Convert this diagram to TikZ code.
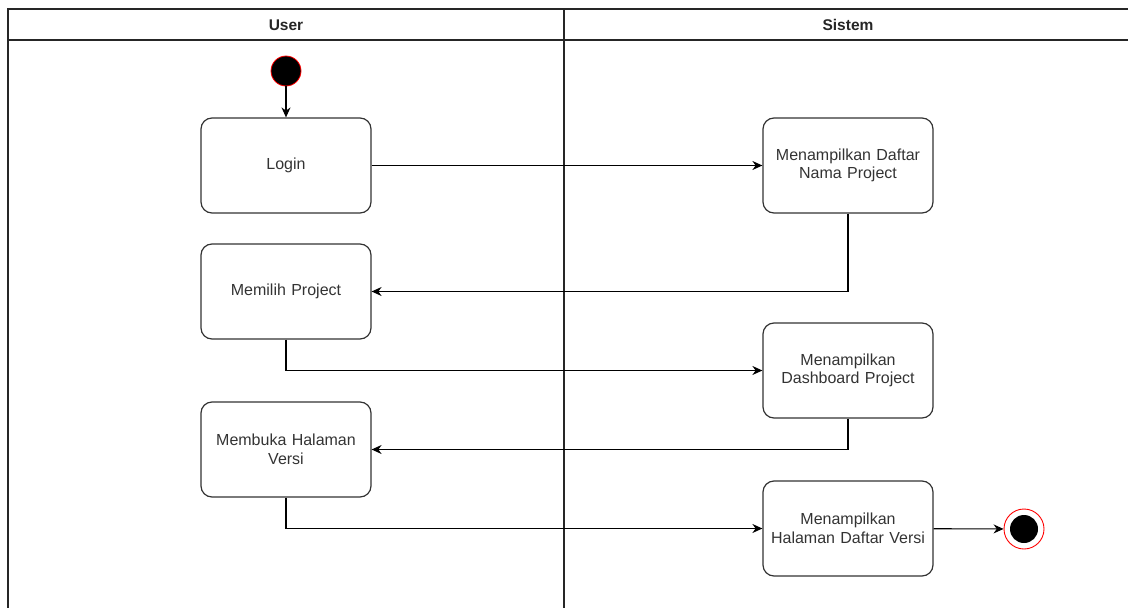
\documentclass[tikz,border=0pt]{standalone}
\usepackage{fontspec}
\setmainfont{Liberation Sans}
\usetikzlibrary{arrows.meta}
\definecolor{edge}{HTML}{333333}
\definecolor{ring}{HTML}{FF0000}
\definecolor{label}{HTML}{333333}
\begin{document}
\begin{tikzpicture}[x=1pt,y=-1pt,
  every node/.style={font=\fontsize{16}{18.5}\selectfont},
  act/.style={draw=edge, line width=1.2pt, rounded corners=11pt, minimum width=170pt,
    minimum height=95pt, align=center, text=label, inner sep=2pt, text width=162pt},
  flow/.style={draw=black, line width=1.1pt, -{Stealth[length=10pt,width=9pt]}},
  lane/.style={draw=black!85, line width=1.2pt},
  head/.style={font=\bfseries\fontsize{15.5}{18}\selectfont, text=black!85}]
\useasboundingbox (0,0) rectangle (1128,608);
% swimlane frame
\draw[lane] (8,610) -- (8,9) -- (1130,9);
\draw[lane] (8,40) -- (1130,40);
\draw[lane] (564,9) -- (564,610);
\node[head] (hUser) at (286,25) {User};
\node[head] (hSys) at (848,25) {Sistem};
% initial and final states
\node[circle, fill=black, draw=ring, line width=0.8pt, minimum size=30pt, inner sep=0] (start) at (286,71) {};
\node[circle, draw=ring, line width=0.9pt, minimum size=40pt, inner sep=0] (stop) at (1024,529) {};
\node[circle, fill=black, minimum size=28pt, inner sep=0] at (stop.center) {};
% activities
\node[act] (login) at (286,165.5) {Login};
\node[act] (daftar) at (848,165.5) {Menampilkan Daftar\\Nama Project};
\node[act] (pilih) at (286,291.5) {Memilih Project};
\node[act] (dash) at (848,370.5) {Menampilkan\\Dashboard Project};
\node[act] (buka) at (286,449.5) {Membuka Halaman\\Versi};
\node[act] (versi) at (848,528.5) {Menampilkan\\Halaman Daftar Versi};
% flows
\draw[flow] (start) -- (login);
\draw[flow] (login) -- (daftar);
\draw[flow] (daftar.south) |- (pilih.east);
\draw[flow] (pilih.south) |- (dash.west);
\draw[flow] (dash.south) |- (buka.east);
\draw[flow] (buka.south) |- (versi.west);
\draw[flow] (versi) -- (stop);
\end{tikzpicture}
\end{document}
